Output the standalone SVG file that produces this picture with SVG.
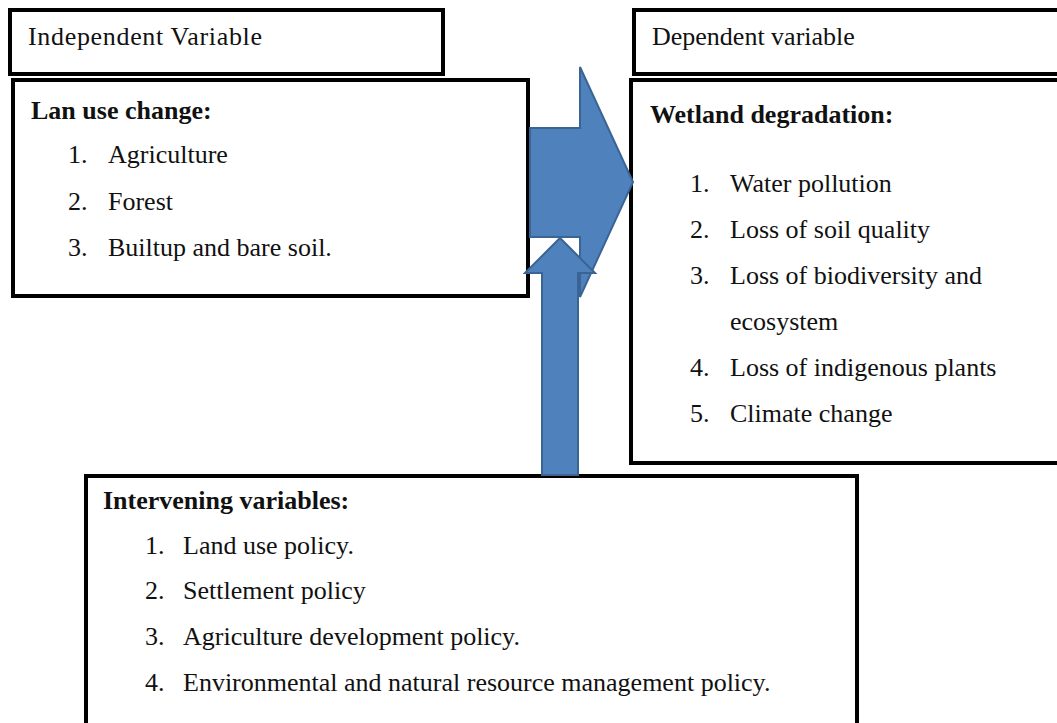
<svg xmlns="http://www.w3.org/2000/svg" width="1057" height="723" viewBox="0 0 1057 723">
<style>
.box{fill:#fff;stroke:#000;stroke-width:4}
text{font-family:'Liberation Serif','Times New Roman','DejaVu Serif',serif;font-size:26px;fill:#111;font-weight:normal}
text.b{font-weight:bold}
.arrow{fill:#4F81BD;stroke:#3A6494;stroke-width:2;stroke-linejoin:miter}
</style>
<rect width="1057" height="723" fill="#fff"/>
<g id="independent-header">
<rect class="box" x="10" y="10" width="433" height="64"/>
<text x="28" y="45" textLength="234">Independent Variable</text>
</g>
<g id="independent">
<rect class="box" x="13" y="80" width="515" height="216"/>
<text class="b" x="31" y="119">Lan use change:</text>
<text x="68" y="163">1.</text><text x="108" y="163">Agriculture</text>
<text x="68" y="210">2.</text><text x="108" y="210">Forest</text>
<text x="68" y="256">3.</text><text x="108" y="256">Builtup and bare soil.</text>
</g>
<g id="dependent-header">
<rect class="box" x="634" y="10" width="440" height="64"/>
<text x="652" y="45">Dependent variable</text>
</g>
<g id="dependent">
<rect class="box" x="631" y="80" width="440" height="383"/>
<text class="b" x="650" y="123">Wetland degradation:</text>
<text x="690" y="192">1.</text><text x="730" y="192">Water pollution</text>
<text x="690" y="238">2.</text><text x="730" y="238">Loss of soil quality</text>
<text x="690" y="284">3.</text><text x="730" y="284">Loss of biodiversity and</text>
<text x="730" y="330">ecosystem</text>
<text x="690" y="376">4.</text><text x="730" y="376">Loss of indigenous plants</text>
<text x="690" y="422">5.</text><text x="730" y="422">Climate change</text>
</g>
<g id="intervening">
<rect class="box" x="86" y="476" width="771" height="270"/>
<text class="b" x="103" y="509">Intervening variables:</text>
<text x="145" y="554">1.</text><text x="183" y="554">Land use policy.</text>
<text x="145" y="599">2.</text><text x="183" y="599">Settlement policy</text>
<text x="145" y="645">3.</text><text x="183" y="645">Agriculture development policy.</text>
<text x="145" y="691">4.</text><text x="183" y="691">Environmental and natural resource management policy.</text>
</g>
<g id="connectors">
<polygon class="arrow" points="530,128 580,128 580,67 633,182 580,297 580,237 530,237"/>
<polygon class="arrow" points="542,475 542,273 525,273 560,238 595,273 578,273 578,475"/>
</g>
</svg>
